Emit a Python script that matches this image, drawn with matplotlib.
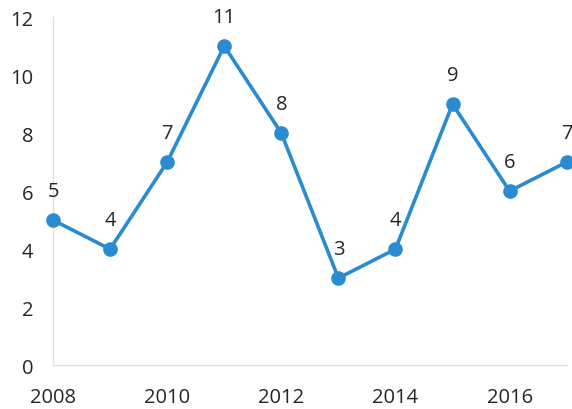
import matplotlib
matplotlib.use("Agg")
import matplotlib.pyplot as plt

years = [2008, 2009, 2010, 2011, 2012, 2013, 2014, 2015, 2016, 2017]
values = [5, 4, 7, 11, 8, 3, 4, 9, 6, 7]
x_ticks = [2008, 2010, 2012, 2014, 2016]
y_ticks = [0, 2, 4, 6, 8, 10, 12]

plt.rcParams['font.family'] = ['Open Sans', 'DejaVu Sans']

fig = plt.figure(figsize=(5.72, 4.10), dpi=100)
ax = fig.add_axes([0.0927, 0.107, 0.898, 0.849])

line_color = '#2a8bd0'
text_color = '#262626'

ax.plot(years, values, color=line_color, linewidth=2.6, marker='o',
        markersize=9.5, clip_on=False, zorder=3)

for x, y in zip(years, values):
    ax.annotate(str(y), (x, y), xytext=(0, 21), textcoords='offset points',
                ha='center', va='center', fontsize=14.5, color=text_color)

ax.set_xlim(2008, 2017)
ax.set_ylim(0, 12)
ax.set_xticks(x_ticks)
ax.set_yticks(y_ticks)
ax.tick_params(axis='both', length=0, labelsize=14.5, labelcolor=text_color)
ax.tick_params(axis='y', pad=14)
ax.tick_params(axis='x', pad=16)

for side in ['top', 'right']:
    ax.spines[side].set_visible(False)
for side in ['left', 'bottom']:
    ax.spines[side].set_color('#dedede')
    ax.spines[side].set_linewidth(0.9)

fig.savefig('out.png', dpi=100, facecolor='white')
